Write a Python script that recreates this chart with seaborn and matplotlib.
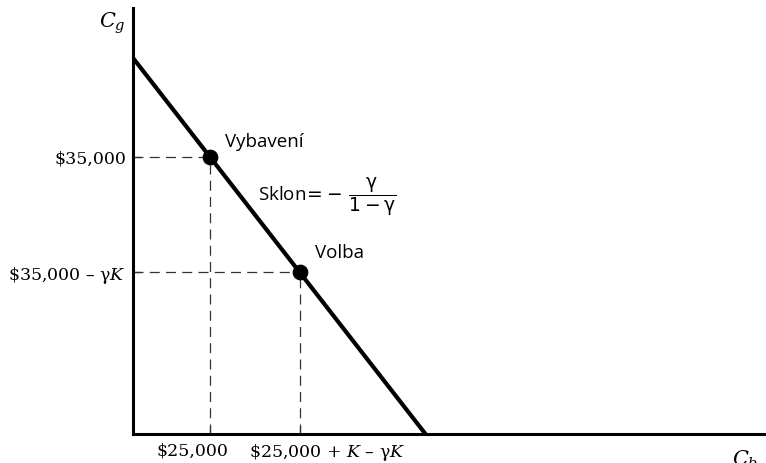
import matplotlib
matplotlib.use("Agg")
import matplotlib.pyplot as plt
import matplotlib.transforms as mtransforms
import seaborn as sns
import pandas as pd

# budget line (thousands of dollars): C_b on x, C_g on y
line_x = [0.0, 95.0]
line_y = [47.5, 0.0]

# labelled points: endowment and choice
point_names = ["Vybavení", "Volba"]
point_x = [25.0, 54.2]
point_y = [35.0, 20.4]

x_tick_labels = [r"\$25,000", r"\$25,000 + $K$ – γ$K$"]
y_tick_labels = [r"\$35,000", r"\$35,000 – γ$K$"]

sns.set_theme(style="white")
plt.rcParams["font.family"] = ["DejaVu Serif"]
plt.rcParams["mathtext.fontset"] = "dejavuserif"
plt.rcParams["text.color"] = "black"
plt.rcParams["xtick.color"] = "black"
plt.rcParams["ytick.color"] = "black"

fig = plt.figure(figsize=(7.66, 4.63), dpi=100)
ax = fig.add_axes([0.1736, 0.0626, 0.826, 0.920])

budget = pd.DataFrame({"x": line_x, "y": line_y})
sns.lineplot(data=budget, x="x", y="y", ax=ax, color="black", linewidth=3.0)

# dashed guides from the axes to each point
for px, py in zip(point_x, point_y):
    ax.plot([0, px], [py, py], color="#333333", linewidth=0.9, dashes=(8, 5))
    ax.plot([px, px], [0, py], color="#333333", linewidth=0.9, dashes=(8, 5))

pts = pd.DataFrame({"x": point_x, "y": point_y, "name": point_names})
sns.scatterplot(data=pts, x="x", y="y", ax=ax, color="black", s=110,
                edgecolor="black", zorder=5, legend=False)

ann_font = ["Open Sans", "DejaVu Sans"]
ax.text(point_x[0] + 4.9, point_y[0] + 0.75, point_names[0], fontsize=13.5,
        family=ann_font, va="bottom", ha="left")
ax.text(point_x[1] + 5.0, point_y[1] + 1.35, point_names[1], fontsize=13.5,
        family=ann_font, va="bottom", ha="left")
ax.text(40.6, 30.0, r"Sklon$\!=\!-\,\dfrac{\mathrm{\gamma}}{1-\mathrm{\gamma}}$",
        fontsize=13.5, family=ann_font, math_fontfamily="dejavusans",
        va="center", ha="left")

ax.set_xlim(0, 205.5)
ax.set_ylim(0, 53.8)
ax.set_xticks(point_x)
ax.set_xticklabels(x_tick_labels, fontsize=12.5)
ax.set_yticks(point_y)
ax.set_yticklabels(y_tick_labels, fontsize=12.5)
ax.tick_params(direction="in", length=6, width=0.9, color="black",
               bottom=True, left=True)
ax.tick_params(axis="x", pad=6)
ax.tick_params(axis="y", pad=5)
ax.set_xlabel("")
ax.set_ylabel("")

# x labels sit off-centre from their ticks in the original
for lab, dx in zip(ax.get_xticklabels(), [-18, 27]):
    lab.set_transform(lab.get_transform() +
                      mtransforms.ScaledTranslation(dx / 100, 0, fig.dpi_scale_trans))

for side in ["top", "right"]:
    ax.spines[side].set_visible(False)
for side in ["left", "bottom"]:
    ax.spines[side].set_color("black")
    ax.spines[side].set_linewidth(2.2)

ax.text(-2.5, 53.5, r"$C_g$", fontsize=15, ha="right", va="top")
ax.text(203, -1.8, r"$C_b$", fontsize=15, ha="right", va="top")

fig.savefig("out.png", dpi=100)
